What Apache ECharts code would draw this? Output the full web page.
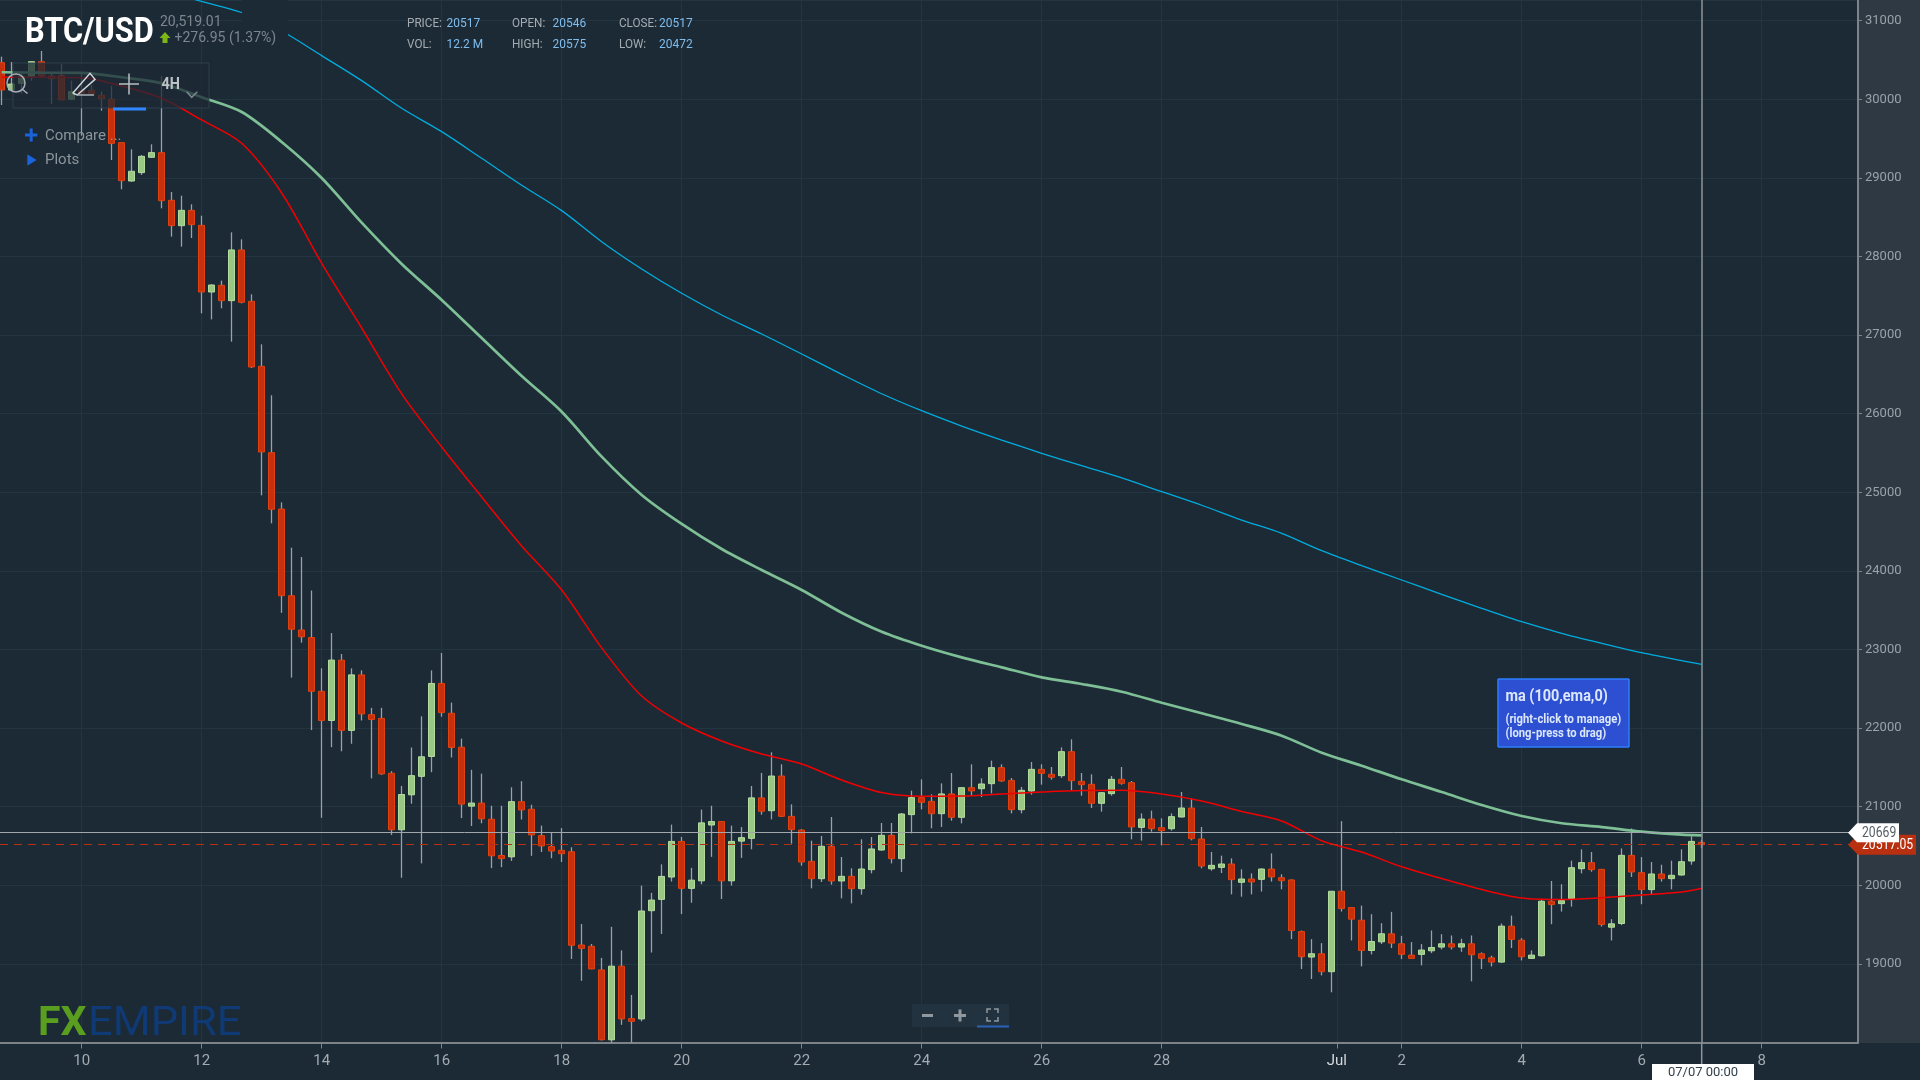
<!DOCTYPE html>
<html>
<head>
<meta charset="utf-8">
<title>BTC/USD</title>
<style>
  html, body { margin: 0; padding: 0; background: #1c2a36; }
  #main { width: 1920px; height: 1080px; }
</style>
<script src="https://cdn.jsdelivr.net/npm/echarts@6/dist/echarts.min.js"></script>
</head>
<body>
<div id="main"></div>
<script>
// 4H candles, the first one is Jun 8 16:00 (days are counted from Jun 0)
const firstDay = 10 - 8 / 6
const candlesPerDay = 6

const opens = [30466,30118,30203,30296,30478,30296,30304,30001,30110,30114,
  30050,30000,29448,28960,29067,29262,29321,28715,28392,28587,
  28396,27548,27633,27438,28083,27430,26603,25504,24787,23684,
  23248,23152,22468,22097,22865,21971,22677,22171,22123,21426,
  20706,21151,21386,21639,22568,22189,21757,21007,21046,20841,
  20379,20362,21064,20968,20632,20493,20445,20427,19241,19224,
  18923,18034,18971,18304,18300,19677,19821,20105,20558,19961,
  20057,20767,20811,20057,20562,20597,21112,20949,21390,20877,
  20703,20305,20084,20496,20055,20114,19957,20199,20449,20636,
  20339,20899,21115,21068,20911,21162,20865,21242,21229,21293,
  21497,21335,20962,21200,21475,21412,21395,21700,21323,21285,
  21043,21166,21348,21306,20737,20843,20733,20720,20869,20983,
  20589,20211,20228,20271,20038,20080,20076,20207,20097,20068,
  19412,19087,19129,18901,19924,19717,19556,19171,19281,19383,
  19256,19112,19121,19167,19214,19256,19214,19256,19129,19078,
  19023,19480,19302,19070,19104,19797,19767,19831,20211,20288,
  20203,19467,19514,20381,20161,19945,20144,20085,20131,20309,
  20546]
const closes = [30118,30194,30288,30478,30296,30262,29991,30097,30080,30067,
  30008,29439,28965,29084,29274,29321,28710,28392,28587,28405,
  27548,27637,27438,28083,27417,26594,25513,24783,23684,23257,
  23161,22468,22097,22865,21971,22677,22180,22110,21417,20706,
  21155,21395,21635,22568,22197,21753,21033,21046,20846,20375,
  20340,21064,20959,20641,20501,20436,20401,19237,19198,18936,
  18034,18971,18300,18269,19673,19812,20113,20558,19961,20065,
  20794,20811,20057,20558,20606,21112,20942,21390,20877,20708,
  20296,20084,20496,20055,20114,19957,20207,20462,20636,20339,
  20907,21115,21055,20911,21162,20865,21242,21200,21289,21497,
  21327,20962,21208,21475,21424,21374,21700,21331,21280,21043,
  21178,21348,21297,20742,20843,20720,20695,20873,20983,20593,
  20245,20254,20271,20072,20080,20042,20207,20106,20059,19425,
  19091,19129,18901,19924,19704,19569,19171,19285,19383,19264,
  19121,19070,19176,19209,19256,19214,19256,19116,19070,19023,
  19480,19311,19091,19112,19797,19755,19805,20224,20288,20199,
  19501,19510,20381,20169,19945,20144,20085,20127,20300,20558,
  20517]
const highs = [30542,30474,30330,30478,30614,30330,30449,30237,30330,30181,
  30097,30169,29448,29363,29291,29427,30296,28821,28774,28664,
  28519,27646,27692,28307,28218,27519,26882,26234,24872,24295,
  24177,23750,22760,23209,22943,22760,22734,22258,22258,21452,
  21264,21753,22149,22734,22956,22324,21866,21469,21421,21012,
  21012,21247,21325,21025,20759,20676,20728,20484,19507,19254,
  19076,19472,19172,18605,19996,19904,20266,20772,20615,20222,
  20964,21012,20811,20759,20741,21264,21430,21692,21539,21030,
  20716,20568,20627,20869,20360,20216,20585,20614,20793,20793,
  20920,21204,21348,21157,21297,21429,21242,21539,21361,21586,
  21539,21365,21251,21569,21539,21505,21755,21857,21429,21412,
  21178,21390,21505,21327,20915,20949,20852,20915,21187,21106,
  20742,20424,20377,20343,20203,20152,20216,20406,20140,20076,
  19425,19315,19264,19924,20816,19717,19742,19632,19518,19662,
  19357,19277,19252,19425,19378,19362,19320,19362,19146,19104,
  19514,19615,19328,19171,19822,20055,20013,20313,20457,20423,
  20203,19569,20469,20723,20359,20296,20262,20313,20457,20626,
  20575]
const lows = [29927,30110,30075,30237,30287,29940,29991,29991,29537,30060,
  29855,29227,28855,28952,29037,29257,28613,28252,28125,28235,
  27277,27200,27340,26916,27404,26581,24961,24605,23466,22642,
  23087,21975,20859,21757,21705,21801,22097,21360,21404,20641,
  20096,21038,20279,21439,22145,21626,20855,20754,20789,20218,
  20231,20310,20837,20375,20423,20344,20296,19063,18784,18932,
  18025,18000,18225,18000,18269,19145,19381,20048,19634,19778,
  20013,20362,19826,19996,20349,20458,20898,20839,20869,20530,
  20250,19961,20042,20008,19834,19770,19881,20152,20440,20279,
  20169,20661,20966,20725,20742,20822,20788,21136,21123,21170,
  21314,20915,20915,21153,21280,21344,21365,21212,21140,20983,
  20937,21140,21280,20585,20568,20682,20508,20695,20865,20572,
  20216,20186,20156,19885,19855,19885,19920,20047,19949,19315,
  18935,18808,18854,18639,19666,19298,18968,19121,19252,19201,
  19061,19070,18981,19137,19184,19184,19154,18778,18935,18968,
  19015,19201,19044,19070,19095,19505,19666,19729,20152,20173,
  19476,19298,19493,20106,19759,19877,20047,19949,20123,20262,
  20472]

// moving averages, read every 4th candle plus the last one
const lineCandles = [0,4,8,12,16,20,24,28,32,36,40,44,48,52,56,60,64,68,72,76,80,84,88,92,96,100,
  104,108,112,116,120,124,128,132,136,140,144,148,152,156,160,164,168,170]
const cyanLine = [null,null,null,null,31391,31244,31104,30869,30555,30237,
  29885,29588,29249,28906,28583,28188,27841,27532,27256,27014,
  26759,26501,26254,26038,25843,25665,25496,25338,25182,25008,
  24835,24647,24478,24257,24066,23884,23702,23524,23353,23206,
  23079,22959,22857,22811]
const greenLine = [30344,30338,30335,30280,30204,30025,29838,29457,28999,28430,
  27905,27447,26963,26480,26025,25453,24966,24597,24278,24011,
  23757,23468,23226,23048,22900,22773,22646,22561,22463,22323,
  22188,22052,21903,21687,21521,21348,21187,21021,20881,20789,
  20741,20682,20645,20636]
const redLine = [30280,30280,30275,30169,30013,29737,29440,28808,27913,27090,
  26251,25576,24940,24317,23757,23021,22408,22065,21836,21670,
  21543,21339,21180,21132,21136,21161,21187,21206,21209,21161,
  21072,20939,20818,20567,20423,20236,20086,19946,19838,19819,
  19842,19876,19914,19962]

const tickDays = [10,12,14,16,18,20,22,24,26,28,30.92,32,34,36,38]
const tickLabels = ['10','12','14','16','18','20','22','24','26','28','{jul|Jul}','2','4','6','8']

const cursorDay = 37
const cursorPrice = 20669
const lastPrice = 20517.05

const BG = '#1c2a36'

function candleDay(i){
    return firstDay + i / candlesPerDay
}

function wickData(){
    return opens.map((o, i) => [candleDay(i), o, closes[i], lows[i], highs[i]])
}

function bodyData(){
    return opens.map((o, i) => [candleDay(i), o, closes[i], Math.min(o, closes[i]), Math.max(o, closes[i])])
}

function lineData(values){
    return values.map((v, i) => [candleDay(lineCandles[i]), v])
}

function lineSeries(name, values, color, width){
    return {
        name: name,
        type: 'line',
        data: lineData(values),
        showSymbol: false,
        silent: true,
        smooth: 0.3,
        connectNulls: false,
        lineStyle: {color: color, width: width},
        z: 4
    }
}

// squeeze is a horizontal scale, the chart's condensed font is not installed
function txt(x, y, text, font, color, squeeze, align){
    return {
        type: 'text',
        z: 30,
        silent: true,
        x: x,
        y: y,
        scaleX: squeeze || 1,
        style: {x: 0, y: 0, text: text, font: font, fill: color, textAlign: align || 'left', textVerticalAlign: 'middle'}
    }
}

function rect(x, y, w, h, fill, z, stroke){
    return {
        type: 'rect',
        z: z,
        silent: true,
        shape: {x: x, y: y, width: w, height: h},
        style: {fill: fill, stroke: stroke || 'none', lineWidth: stroke ? 1 : 0}
    }
}

function seg(x1, y1, x2, y2, color, width){
    return {
        type: 'line',
        z: 30,
        silent: true,
        shape: {x1: x1, y1: y1, x2: x2, y2: y2},
        style: {stroke: color, lineWidth: width}
    }
}

function poly(points, fill, z, stroke){
    return {
        type: stroke ? 'polyline' : 'polygon',
        z: z,
        silent: true,
        shape: {points: points},
        style: stroke ? {stroke: stroke, fill: 'none', lineWidth: 1.5} : {fill: fill}
    }
}

const chart = echarts.init(document.getElementById('main'))

chart.setOption({
    animation: false,
    backgroundColor: BG,
    grid: {left: 0, width: 1858, top: 0, height: 1042.5},
    xAxis: {
        type: 'value',
        min: 8.6383,
        max: 39.605,
        axisLine: {onZero: false, lineStyle: {color: '#7d8489', width: 2}},
        axisTick: {customValues: tickDays, length: 6, lineStyle: {color: '#7d8489', width: 1}},
        axisLabel: {
            customValues: tickDays,
            margin: 11,
            color: '#a3abb1',
            fontFamily: 'Roboto',
            fontSize: 15,
            formatter: function(value){
                return tickLabels[tickDays.indexOf(value)] || ''
            },
            rich: {jul: {color: '#d3d8dc', fontFamily: 'Roboto', fontSize: 15}}
        },
        splitLine: {show: true, lineStyle: {color: '#243542', width: 1}}
    },
    yAxis: {
        type: 'value',
        position: 'right',
        min: 18000,
        max: 31263,
        interval: 1000,
        axisLine: {show: true, onZero: false, lineStyle: {color: '#7d8489', width: 2}},
        axisTick: {show: true, length: 4, lineStyle: {color: '#7d8489', width: 1}},
        axisLabel: {
            margin: 7,
            showMinLabel: false,
            showMaxLabel: false,
            color: '#99a2a9',
            fontFamily: 'Roboto',
            fontSize: 13,
            formatter: function(value){
                return String(value)
            }
        },
        splitLine: {show: true, lineStyle: {color: '#243542', width: 1}}
    },
    series: [
        {
            name: 'wicks',
            type: 'candlestick',
            data: wickData(),
            barWidth: 1,
            silent: true,
            itemStyle: {color: 'transparent', color0: 'transparent', borderColor: '#9aa1a7', borderColor0: '#9aa1a7', borderWidth: 1.3},
            markLine: {
                silent: true,
                symbol: 'none',
                label: {show: false},
                animation: false,
                data: [
                    {yAxis: cursorPrice, lineStyle: {color: '#a0a6ab', type: 'solid', width: 1}},
                    {yAxis: lastPrice, lineStyle: {color: '#b83012', type: [8, 6], width: 1}},
                    {xAxis: cursorDay, lineStyle: {color: '#8d9499', type: 'solid', width: 1.5}}
                ]
            },
            z: 2
        },
        {
            name: 'BTC/USD',
            type: 'candlestick',
            data: bodyData(),
            barWidth: 6,
            silent: true,
            itemStyle: {color: '#98c884', color0: '#c5310f', borderColor: '#b4dc9f', borderColor0: '#e2420f', borderWidth: 1},
            z: 3
        },
        lineSeries('ma 200', cyanLine, '#00addf', 1.3),
        lineSeries('ma 100', greenLine, '#7ebf96', 2.7),
        lineSeries('ma 50', redLine, '#f20000', 1.5)
    ]
})

const yCursor = chart.convertToPixel({yAxisIndex: 0}, cursorPrice)
const yLast = chart.convertToPixel({yAxisIndex: 0}, lastPrice)
const xCursor = chart.convertToPixel({xAxisIndex: 0}, cursorDay)

chart.setOption({graphic: {elements: [
    // price panel on the right, behind the axis
    rect(1858, 0, 62, 1043, '#2e3944', -1),
    // header block hides the line behind it
    rect(242, 0, 46, 62, BG, 10),

    txt(25, 33, 'BTC/USD', 'bold 35px Roboto', '#ffffff', 0.88),
    txt(160, 22.5, '20,519.01', '14px Roboto', '#7d868d'),
    poly([[165, 32], [170.5, 38], [167.5, 38], [167.5, 43], [162.5, 43], [162.5, 38], [159.5, 38]], '#7cb518', 30),
    txt(174.5, 38, '+276.95 (1.37%)', '14px Roboto', '#7d868d'),

    txt(407, 24, 'PRICE:', '13px Roboto', '#a5acb1', 0.9),
    txt(446.5, 24, '20517', '13px Roboto', '#7fbdee', 0.92),
    txt(512, 24, 'OPEN:', '13px Roboto', '#a5acb1', 0.9),
    txt(552.5, 24, '20546', '13px Roboto', '#7fbdee', 0.92),
    txt(619, 24, 'CLOSE:', '13px Roboto', '#a5acb1', 0.9),
    txt(659, 24, '20517', '13px Roboto', '#7fbdee', 0.92),
    txt(407, 45, 'VOL:', '13px Roboto', '#a5acb1', 0.9),
    txt(446.5, 45, '12.2 M', '13px Roboto', '#7fbdee', 0.92),
    txt(512, 45, 'HIGH:', '13px Roboto', '#a5acb1', 0.9),
    txt(552.5, 45, '20575', '13px Roboto', '#7fbdee', 0.92),
    txt(619, 45, 'LOW:', '13px Roboto', '#a5acb1', 0.9),
    txt(659, 45, '20472', '13px Roboto', '#7fbdee', 0.92),

    // toolbar over the candles
    rect(13, 63, 196, 45, 'rgba(28,42,54,0.75)', 20, 'rgba(52,68,82,0.8)'),
    {type: 'circle', z: 30, silent: true, shape: {cx: 16, cy: 83, r: 9}, style: {stroke: '#a8aeb3', fill: 'none', lineWidth: 1.5}},
    seg(22, 89, 27.5, 93.5, '#a8aeb3', 1.5),
    poly([[72.7, 93.3], [90, 73.3], [95, 79.3], [77.3, 95], [72.7, 93.3]], null, 30, '#d0d5d9'),
    seg(77, 95, 94, 95, '#a8aeb3', 1.5),
    seg(119, 84, 139, 84, '#b8bec2', 1.5),
    seg(129, 73.5, 129, 94.5, '#b8bec2', 1.5),
    txt(161.5, 84.5, '4H', 'bold 16px Roboto', '#bcc2c6', 0.9),
    poly([[186.7, 91.7], [191.7, 97.3], [197.3, 91.7]], null, 30, '#7c868c'),
    rect(113, 107.5, 33, 3, '#2f86ff', 30),

    seg(25, 135, 37.3, 135, '#1a63d8', 3),
    seg(31.2, 128.5, 31.2, 141.5, '#1a63d8', 3),
    txt(45, 136.5, 'Compare ...', '15px Roboto', '#8b949b'),
    poly([[27.3, 154.3], [36.7, 160], [27.3, 165.7]], '#1a63d8', 30),
    txt(45, 160.5, 'Plots', '15px Roboto', '#8b949b'),

    // logo
    txt(38, 1024.5, 'FX', 'bold 41px Roboto', '#5a9e1f'),
    txt(88, 1024.5, 'EMPIRE', '41px Roboto', '#0f3a75', 1.06),

    // zoom buttons
    rect(912, 1004, 97, 23, '#22323f', 25),
    seg(922, 1015.5, 933, 1015.5, '#8f989e', 3),
    seg(954, 1015.5, 966, 1015.5, '#8f989e', 3),
    seg(960, 1009.5, 960, 1021.5, '#8f989e', 3),
    poly([[987, 1013], [987, 1009], [991, 1009]], null, 30, '#8f989e'),
    poly([[994, 1009], [998, 1009], [998, 1013]], null, 30, '#8f989e'),
    poly([[987, 1017], [987, 1021], [991, 1021]], null, 30, '#8f989e'),
    poly([[994, 1021], [998, 1021], [998, 1017]], null, 30, '#8f989e'),
    rect(977, 1025.5, 32, 2, '#2a62b8', 30),

    // indicator tooltip
    rect(1498, 679, 131, 68, '#2d4fd1', 25, '#2f7fff'),
    rect(1498, 679, 131, 68, 'none', 26, '#2f7fff'),
    txt(1505.5, 697, 'ma (100,ema,0)', 'bold 17px Roboto', '#dbe7fb', 0.85),
    txt(1505.5, 720, '(right-click to manage)', 'bold 13px Roboto', '#dbe7fb', 0.865),
    txt(1505.5, 734, '(long-press to drag)', 'bold 13px Roboto', '#dbe7fb', 0.865),

    // cursor and price tags
    seg(xCursor, 1043, xCursor, 1064, '#8d9499', 1.5),
    rect(1652, 1064, 102, 16, '#ffffff', 30),
    txt(1703, 1072.5, '07/07 00:00', '13px Roboto', '#33404c', 1, 'center'),
    poly([[1848, yLast], [1858, yLast - 10], [1916, yLast - 10], [1916, yLast + 10], [1858, yLast + 10]], '#b83010', 28),
    txt(1862, yLast + 0.5, String(lastPrice), '14px Roboto', '#ffffff', 0.87),
    poly([[1848, yCursor], [1857, yCursor - 9.5], [1899, yCursor - 9.5], [1899, yCursor + 9.5], [1857, yCursor + 9.5]], '#ffffff', 29),
    txt(1862, yCursor + 0.5, String(cursorPrice), '14px Roboto', '#555d63', 0.87)
]}})
</script>
</body>
</html>
